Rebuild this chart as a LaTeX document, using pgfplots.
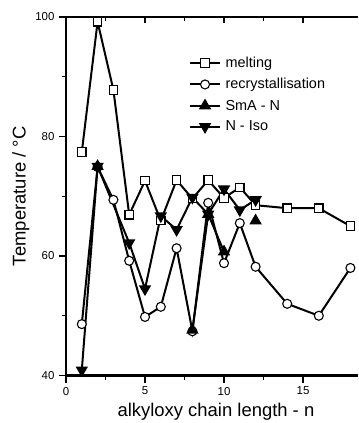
\documentclass[border=0pt]{standalone}
\usepackage{pgfplots}
\pgfplotsset{compat=1.18}
\usepackage{fontspec}
\setmainfont{Liberation Sans}
\begin{document}
\begin{tikzpicture}
\path[use as bounding box] (-66bp,-47.5bp) rectangle (293bp,375.5bp);
\begin{axis}[
  at={(0,0)}, anchor=south west,
  scale only axis, width=292.3bp, height=358.5bp,
  xmin=0, xmax=18.5, ymin=40, ymax=100,
  axis x line*=bottom, axis y line*=left,
  axis line style={line width=2.4bp},
  xtick={0,5,10,15}, ytick={40,60,80,100},
  minor x tick num=1, minor y tick num=1,
  tick align=outside,
  major tick length=7bp, minor tick length=4bp,
  tick style={line width=1.3bp, black},
  /pgf/number format/assume math mode=true,
  ticklabel style={font=\fontsize{11.5}{13}\selectfont},
  xticklabel style={yshift=-1bp},
  yticklabel style={xshift=-1bp},
  xlabel={alkyloxy chain length - n},
  ylabel={Temperature / \textdegree C},
  label style={font=\fontsize{18.5}{22}\selectfont},
  xlabel style={at={(axis description cs:0.513,-0.102)}, anchor=center},
  ylabel style={at={(axis description cs:-0.154,0.5)}, anchor=center},
  unbounded coords=jump,
  every axis plot/.append style={line width=2bp, black},
  legend cell align=left,
  legend image code/.code={\draw[line width=2bp, mark repeat=2,mark phase=2] plot coordinates {(0bp,0bp) (15bp,0bp) (30bp,0bp)};},
  legend style={draw=none, fill=none, at={(axis description cs:0.41,0.90)}, anchor=north west,
    font=\fontsize{14.5}{16}\selectfont, row sep=5.5bp, nodes={inner xsep=4.5bp}},
]
\addplot[mark=square*, mark size=4.2bp, mark options={fill=white, solid, line width=1.1bp}] coordinates {
(1,77.4)(2,99.2)(3,87.8)(4,66.9)(5,72.6)(6,65.9)(7,72.7)(8,69.6)(9,72.7)(10,69.7)(11,71.5)(12,68.5)(14,68.0)(16,68.0)(18,65.0)};
\addlegendentry{melting}
\addplot[mark=*, mark size=4.5bp, mark options={fill=white, solid, line width=1.1bp}] coordinates {
(1,48.6)(2,74.9)(3,69.4)(4,59.2)(5,49.8)(6,51.5)(7,61.3)(8,47.4)(9,68.9)(10,58.8)(11,65.5)(12,58.2)(14,52.0)(16,50.0)(18,58.0)};
\addlegendentry{recrystallisation}
\addplot[mark=triangle*, mark size=5.2bp, mark options={fill=black, solid}] coordinates {
(2,75.0)(3,nan)(8,47.6)(9,67.0)(10,60.7)(11,nan)(12,65.9)};
\addlegendentry{SmA - N}
\addplot[mark=triangle*, mark size=5.2bp, mark options={fill=black, solid, rotate=180}] coordinates {
(1,40.9)(2,75.0)(4,62.2)(5,54.5)(6,66.7)(7,64.4)(8,69.8)(9,67.0)(10,71.2)(11,67.7)(12,69.4)};
\addlegendentry{N - Iso}
\end{axis}
\begin{axis}[
  at={(0,0)}, anchor=south west,
  scale only axis, width=292.3bp, height=358.5bp,
  xmin=0, xmax=18.5, ymin=40, ymax=100,
  axis x line*=top, hide y axis,
  axis line style={line width=2.4bp},
  xtick={0,5,10,15}, minor x tick num=1,
  xticklabels={},
  tick align=inside,
  major tick length=6bp, minor tick length=4bp,
  tick style={line width=1.3bp, black},
]
\addplot[draw=none] coordinates {(1,50)};
\end{axis}
\end{tikzpicture}
\end{document}
